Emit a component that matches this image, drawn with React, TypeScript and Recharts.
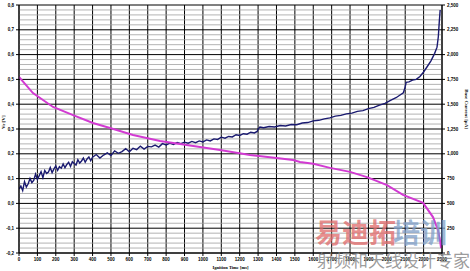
import React from 'react';
import { LineChart, Line, XAxis, YAxis, CartesianGrid, ReferenceLine } from 'recharts';

// x axis ticks (time)
const xTicks = [0,100,200,300,400,500,600,700,800,900,1000,1100,1200,1300,1400,1500,1600,1700,1800,1900,2000,2100,2200,2300];
const leftTicks = [-0.2,-0.1,0,0.1,0.2,0.3,0.4,0.5,0.6,0.7,0.8];
const leftMinor = [-0.18,-0.16,-0.14,-0.12,-0.08,-0.06,-0.04,-0.02,0.02,0.04,0.06,0.08,0.12,0.14,0.16,0.18,0.22,0.24,0.26,0.28,0.32,0.34,0.36,0.38,0.42,0.44,0.46,0.48,0.52,0.54,0.56,0.58,0.62,0.64,0.66,0.68,0.72,0.74,0.76,0.78];
const rightTicks = [0,250,500,750,1000,1250,1500,1750,2000,2250,2500];

// blue series: Vr [V] (left axis)
const blueX = [0,10,20,30,40,50,60,70,80,90,100,110,120,130,140,150,160,170,180,190,200,210,220,230,240,250,260,270,280,290,300,310,320,330,340,350,360,370,380,390,400,420,440,460,480,500,520,540,560,580,600,620,640,660,680,700,720,740,760,780,800,820,840,860,880,900,920,940,960,980,1000,1020,1040,1060,1080,1100,1120,1140,1160,1180,1200,1220,1240,1260,1280,1295,1300,1310,1330,1360,1390,1420,1450,1480,1510,1540,1570,1600,1630,1660,1690,1720,1750,1780,1810,1840,1870,1900,1930,1960,1990,2020,2050,2070,2090,2100,2105,2120,2140,2160,2180,2200,2220,2240,2260,2273,2280,2285,2290];
const blueY = [0.058,0.070,0.052,0.088,0.066,0.079,0.101,0.084,0.093,0.118,0.097,0.112,0.128,0.104,0.133,0.121,0.126,0.145,0.124,0.139,0.151,0.133,0.148,0.142,0.159,0.144,0.157,0.166,0.149,0.168,0.161,0.155,0.176,0.163,0.171,0.183,0.166,0.179,0.187,0.172,0.186,0.197,0.183,0.195,0.204,0.193,0.212,0.202,0.209,0.221,0.208,0.222,0.217,0.231,0.219,0.230,0.228,0.235,0.227,0.241,0.236,0.243,0.238,0.246,0.241,0.247,0.243,0.250,0.245,0.252,0.248,0.256,0.252,0.260,0.258,0.267,0.263,0.270,0.268,0.277,0.274,0.281,0.279,0.287,0.284,0.290,0.300,0.308,0.305,0.310,0.308,0.314,0.312,0.318,0.317,0.324,0.326,0.333,0.335,0.341,0.345,0.352,0.355,0.361,0.364,0.371,0.374,0.382,0.387,0.396,0.403,0.415,0.426,0.436,0.446,0.470,0.488,0.490,0.497,0.500,0.512,0.530,0.552,0.575,0.605,0.630,0.672,0.730,0.780];

// magenta series: base current (right axis)
const magX = [0,76,185,294,402,495,620,767,984,1093,1256,1400,1490,1528,1600,1691,1800,1892,2001,2088,2197,2251,2278,2289,2295];
const magY = [1775,1612,1472,1390,1310,1260,1190,1130,1068,1038,988,958,938,918,900,858,818,765,685,585,505,362,232,130,50];

const blueData = blueX.map((x, i) => ({ x, v: blueY[i] }));
const magData = magX.map((x, i) => ({ x, c: magY[i] }));

const fmtLeft = (v: number) => v.toFixed(1).replace('.', ',');
const fmtRight = (v: number) => (v >= 1000 ? `${Math.floor(v / 1000)},${String(v % 1000).padStart(3, '0')}` : String(v));

const tickStyle = { fontSize: 4.5, fill: '#000', fontFamily: 'Liberation Sans, Arial', fontWeight: 700 };

export default function App() {
  return (
    <div style={{ position: 'absolute', left: 0, top: 0, width: 470, height: 271, background: '#fff' }}>
      <LineChart width={470} height={271} margin={{ top: 5, right: 0, bottom: 0, left: 0 }}>
        <CartesianGrid yAxisId="left" horizontalValues={leftTicks} verticalValues={xTicks} stroke="#000" strokeWidth={1} />
        {leftMinor.map((m) => (
          <ReferenceLine key={m} yAxisId="left" y={m} stroke="#a0a0a0" strokeWidth={0.8} ifOverflow="hidden" />
        ))}
        <XAxis
          dataKey="x"
          type="number"
          domain={[0, 2300]}
          ticks={xTicks}
          interval={0}
          allowDataOverflow
          height={18}
          tickSize={3}
          tick={tickStyle}
          stroke="#000"
          label={{ value: 'Ignition Time [ms]', position: 'insideBottom', offset: 2, fontSize: 4.5, fontWeight: 700, fill: '#000' }}
        />
        <YAxis
          yAxisId="left"
          domain={[-0.2, 0.8]}
          ticks={leftTicks}
          interval={0}
          width={19}
          tickSize={3}
          tick={tickStyle}
          tickFormatter={fmtLeft}
          stroke="#000"
          label={{ value: 'Vr [V]', angle: -90, position: 'insideLeft', offset: 3, fontSize: 5, fontWeight: 700, fill: '#000' }}
        />
        <YAxis
          yAxisId="right"
          orientation="right"
          domain={[0, 2500]}
          ticks={rightTicks}
          interval={0}
          width={28}
          tickSize={3}
          tick={tickStyle}
          tickFormatter={fmtRight}
          stroke="#000"
          label={{ value: 'Base Current [µA]', angle: 90, position: 'insideRight', offset: 3, fontSize: 5, fontWeight: 700, fill: '#000' }}
        />
        <Line yAxisId="left" data={blueData} dataKey="v" stroke="#1a1a70" strokeWidth={1.4} dot={false} isAnimationActive={false} />
        <Line yAxisId="right" data={magData} dataKey="c" stroke="#d23ad2" strokeWidth={2} dot={false} isAnimationActive={false} />
      </LineChart>
      <svg width={470} height={271} style={{ position: 'absolute', left: 0, top: 0, pointerEvents: 'none' }}>
        <text x={315} y={243} fontSize={27} fontWeight={700} fontFamily="Noto Sans CJK SC" fill="#e06a6a" fillOpacity={0.75}>易迪拓</text>
        <text x={393} y={243} fontSize={27} fontWeight={700} fontFamily="Noto Sans CJK SC" fill="#7f9fc8" fillOpacity={0.75}>培训</text>
        <text x={317} y={267} fontSize={17} fontFamily="Noto Sans CJK SC" fill="#8a8a8a" fillOpacity={0.85}>射频和天线设计专家</text>
      </svg>
    </div>
  );
}
